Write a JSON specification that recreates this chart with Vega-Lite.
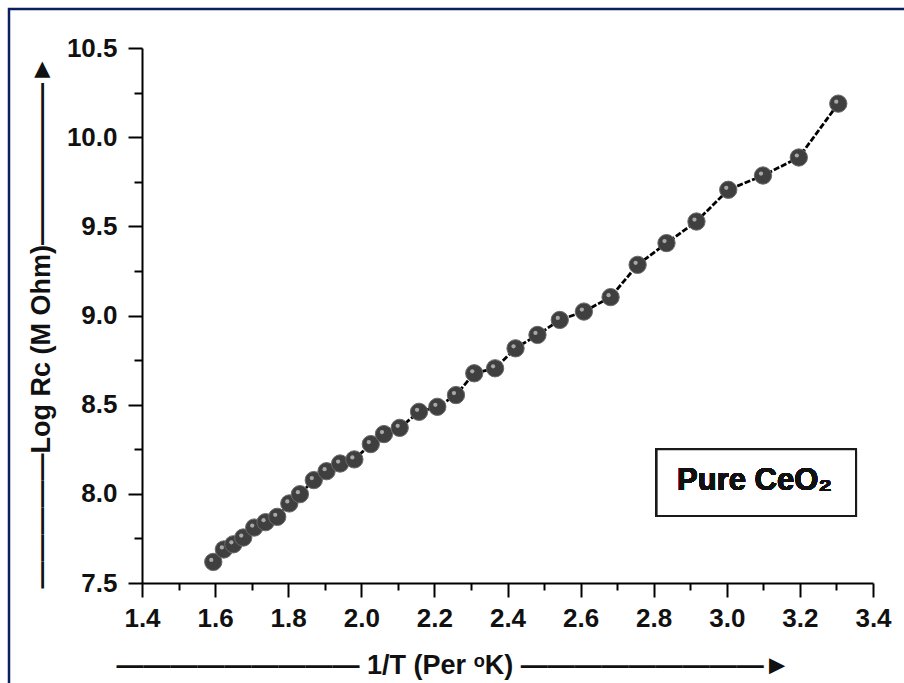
{
  "$schema": "https://vega.github.io/schema/vega-lite/v6.json",
  "width": 895,
  "height": 674,
  "autosize": {"type": "none"},
  "padding": {"left": 9, "top": 9, "right": 0, "bottom": 0},
  "background": "white",
  "config": {
    "view": {"stroke": "#0b1f5e", "strokeWidth": 2.5, "fill": "white", "strokeDash": [895, 1569, 690, 0]},
    "axis": {
      "grid": false,
      "domainColor": "#000000",
      "domainWidth": 2,
      "tickColor": "#000000",
      "tickWidth": 2,
      "labelFont": "Liberation Sans",
      "labelFontSize": 26,
      "labelFontWeight": "bold",
      "labelColor": "#111111",
      "labelOverlap": false,
      "labelFlush": false,
      "titleFont": "Liberation Sans",
      "titleFontSize": 27,
      "titleFontWeight": "bold",
      "titleColor": "#111111"
    }
  },
  "data": {
    "values": [
      {"x": 1.595, "y": 7.618},
      {"x": 1.624, "y": 7.688},
      {"x": 1.650, "y": 7.717},
      {"x": 1.677, "y": 7.755},
      {"x": 1.707, "y": 7.811},
      {"x": 1.738, "y": 7.841},
      {"x": 1.770, "y": 7.871},
      {"x": 1.803, "y": 7.946},
      {"x": 1.832, "y": 7.998},
      {"x": 1.870, "y": 8.077},
      {"x": 1.905, "y": 8.127},
      {"x": 1.942, "y": 8.170},
      {"x": 1.981, "y": 8.193},
      {"x": 2.026, "y": 8.279},
      {"x": 2.062, "y": 8.335},
      {"x": 2.105, "y": 8.370},
      {"x": 2.158, "y": 8.460},
      {"x": 2.208, "y": 8.488},
      {"x": 2.259, "y": 8.554},
      {"x": 2.309, "y": 8.676},
      {"x": 2.366, "y": 8.704},
      {"x": 2.422, "y": 8.816},
      {"x": 2.482, "y": 8.891},
      {"x": 2.543, "y": 8.975},
      {"x": 2.609, "y": 9.022},
      {"x": 2.682, "y": 9.103},
      {"x": 2.756, "y": 9.284},
      {"x": 2.835, "y": 9.406},
      {"x": 2.917, "y": 9.527},
      {"x": 3.004, "y": 9.705},
      {"x": 3.099, "y": 9.785},
      {"x": 3.197, "y": 9.886},
      {"x": 3.305, "y": 10.188}
    ]
  },
  "encoding": {
    "x": {
      "field": "x",
      "type": "quantitative",
      "scale": {"domain": [1.4, 3.4], "range": [133, 864], "nice": false, "zero": false},
      "axis": {
        "orient": "bottom",
        "offset": -100,
        "values": [1.4, 1.5, 1.6, 1.7, 1.8, 1.9, 2.0, 2.1, 2.2, 2.3, 2.4, 2.5, 2.6, 2.7, 2.8, 2.9, 3.0, 3.1, 3.2, 3.3, 3.4],
        "labelExpr": "round(datum.value*10) % 2 == 0 ? format(datum.value, '.1f') : ''",
        "tickSize": {"condition": {"test": "round(datum.value*10) % 2 == 0", "value": 14}, "value": 7},
        "labelPadding": 8,
        "title": "—————————  1/T (Per ᵒK)  —————————►",
        "titleX": 444,
        "titleY": 82,
        "titleAlign": "center",
        "titleBaseline": "middle",
        "titleAngle": 0
      }
    },
    "y": {
      "field": "y",
      "type": "quantitative",
      "scale": {"domain": [7.5, 10.5], "range": [574, 39], "nice": false, "zero": false},
      "axis": {
        "orient": "left",
        "offset": -133,
        "values": [7.5, 7.75, 8.0, 8.25, 8.5, 8.75, 9.0, 9.25, 9.5, 9.75, 10.0, 10.25, 10.5],
        "labelExpr": "round(datum.value*4) % 2 == 0 ? format(datum.value, '.1f') : ''",
        "tickSize": {"condition": {"test": "round(datum.value*4) % 2 == 0", "value": 14}, "value": 8},
        "labelPadding": 11,
        "title": "—————Log Rc (M Ohm)——————►",
        "titleX": -101,
        "titleY": 313,
        "titleAlign": "center",
        "titleBaseline": "middle",
        "titleAngle": -90
      }
    }
  },
  "layer": [
    {
      "mark": {"type": "line", "color": "#000000", "strokeWidth": 2.8, "strokeDash": [6, 2]}
    },
    {
      "mark": {"type": "circle", "size": 300, "color": "#3f3f3f", "opacity": 1, "stroke": "#6a6a6a", "strokeWidth": 1}
    },
    {
      "mark": {"type": "circle", "size": 18, "color": "#a8a8a8", "opacity": 1, "xOffset": -2, "yOffset": -2}
    },
    {
      "mark": {"type": "rect", "fill": "white", "stroke": "#1a1a1a", "strokeWidth": 2},
      "encoding": {
        "x": {"datum": 2.808, "type": "quantitative"},
        "x2": {"datum": 3.3535},
        "y": {"datum": 8.2497, "type": "quantitative"},
        "y2": {"datum": 7.8757}
      }
    },
    {
      "mark": {"type": "text", "font": "Liberation Sans", "fontSize": 31, "fontWeight": "bold", "color": "#111111", "align": "center", "baseline": "alphabetic"},
      "encoding": {
        "x": {"datum": 3.076, "type": "quantitative"},
        "y": {"datum": 8.0215, "type": "quantitative"},
        "text": {"value": "Pure CeO₂"}
      }
    }
  ]
}
